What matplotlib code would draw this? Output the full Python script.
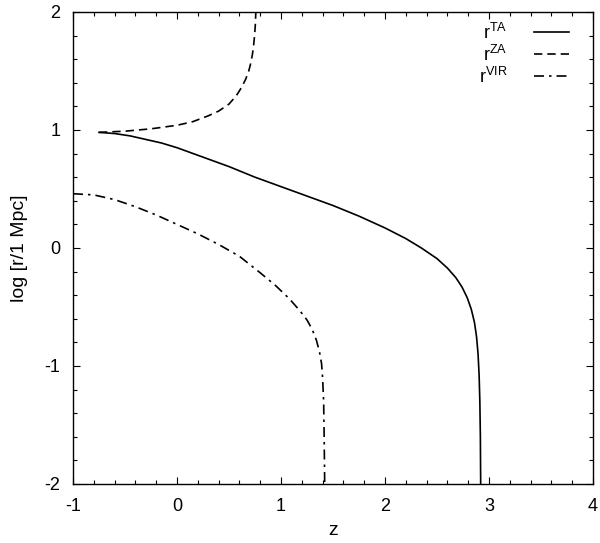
import matplotlib
matplotlib.use('Agg')
import matplotlib.pyplot as plt
from matplotlib.ticker import MultipleLocator

plt.rcParams['font.family'] = ['Liberation Sans', 'DejaVu Sans']
plt.rcParams['mathtext.fontset'] = 'custom'
plt.rcParams['mathtext.rm'] = 'Liberation Sans'
plt.rcParams['axes.unicode_minus'] = False

# r_TA (turnaround)
z_ta = [-0.75, -0.6, -0.45, -0.3, -0.15, 0.0, 0.25, 0.5, 0.75, 1.0, 1.25, 1.5, 1.75, 2.0,
        2.2, 2.35, 2.5, 2.6, 2.68, 2.74, 2.79, 2.83, 2.86, 2.88, 2.895, 2.905, 2.912, 2.917, 2.92]
r_ta = [0.98, 0.97, 0.95, 0.92, 0.89, 0.85, 0.77, 0.69, 0.60, 0.52, 0.44, 0.36, 0.27, 0.17,
        0.08, 0.00, -0.09, -0.17, -0.25, -0.33, -0.42, -0.52, -0.63, -0.75, -0.90, -1.08, -1.3, -1.6, -2.0]

# r_ZA
z_za = [-0.75, -0.5, -0.25, 0.0, 0.15, 0.3, 0.4, 0.5, 0.57, 0.62, 0.66, 0.69, 0.71,
        0.725, 0.737, 0.746, 0.753, 0.758]
r_za = [0.98, 0.99, 1.01, 1.04, 1.07, 1.12, 1.16, 1.22, 1.29, 1.36, 1.43, 1.50, 1.57,
        1.64, 1.72, 1.80, 1.89, 2.0]

# r_VIR
z_vir = [-1.0, -0.8, -0.6, -0.4, -0.2, 0.0, 0.2, 0.4, 0.6, 0.8, 0.95, 1.08, 1.18,
         1.25, 1.30, 1.34, 1.37, 1.39, 1.40, 1.41, 1.415, 1.42]
r_vir = [0.46, 0.45, 0.41, 0.35, 0.28, 0.20, 0.12, 0.03, -0.07, -0.21, -0.32, -0.43, -0.53,
         -0.61, -0.69, -0.78, -0.88, -0.98, -1.10, -1.3, -1.6, -2.0]

fig = plt.figure(figsize=(6.0, 5.43), dpi=100)
ax = fig.add_axes([73/600, 59/543, 520/600, 472/543])

ax.plot(z_ta, r_ta, color='black', lw=1.2, label=r'$\mathrm{r}^{\mathrm{TA}}$')
ax.plot(z_za, r_za, color='black', lw=1.2, dashes=(5, 3), label=r'$\mathrm{r}^{\mathrm{ZA}}$')
ax.plot(z_vir, r_vir, color='black', lw=1.2, dashes=(6, 3, 1.5, 3), label=r'$\mathrm{r}^{\mathrm{VIR}}$')

ax.set_xlim(-1, 4)
ax.set_ylim(-2, 2)
ax.xaxis.set_major_locator(MultipleLocator(1))
ax.yaxis.set_major_locator(MultipleLocator(1))
ax.xaxis.set_minor_locator(MultipleLocator(0.2))
ax.yaxis.set_minor_locator(MultipleLocator(0.2))
ax.tick_params(which='both', direction='in', top=True, right=True, labelsize=13, width=0.8)
ax.tick_params(which='major', length=5)
ax.tick_params(which='minor', length=3)
ax.tick_params(axis='x', pad=10)
ax.tick_params(axis='y', pad=9)
for s in ax.spines.values():
    s.set_linewidth(1.0)

ax.set_xlabel('z', fontsize=14, labelpad=5)
ax.set_ylabel('log [r/1 Mpc]', fontsize=14, labelpad=12)

ax.legend(loc='upper right', bbox_to_anchor=(0.96, 0.985), frameon=False,
          markerfirst=False, fontsize=13, handlelength=1.9, handletextpad=1.5,
          labelspacing=0.1, borderaxespad=0.0, borderpad=0.2)

fig.savefig('out.png', dpi=100)
